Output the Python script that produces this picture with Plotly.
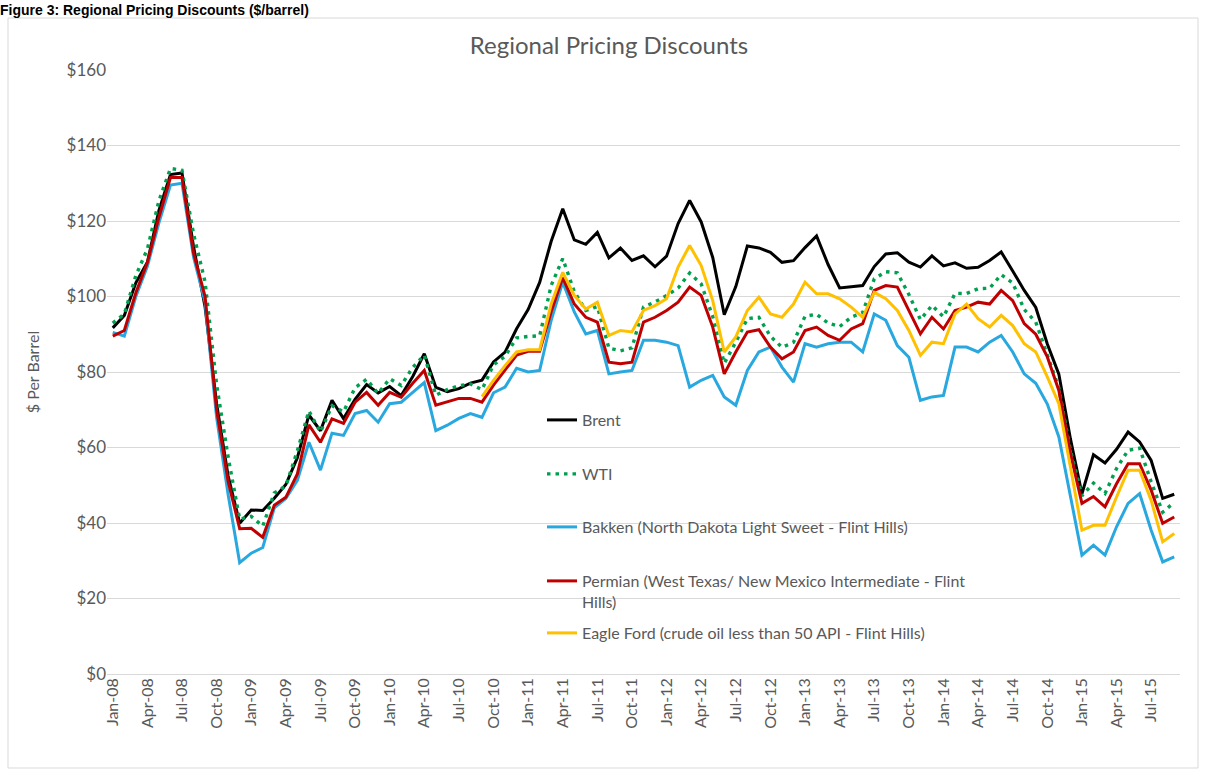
import pandas as pd
import plotly.graph_objects as go

# ---------------- data ----------------
months = pd.date_range("2008-01-01", periods=93, freq="MS").strftime("%b-%y").tolist()
tick_labels = months[::3]

brent = [91.69, 94.99, 103.64, 109.07, 122.80, 132.32, 132.72, 113.24, 97.23, 71.58, 52.45, 39.95,
         43.44, 43.32, 46.54, 50.18, 57.30, 68.61, 64.44, 72.51, 67.65, 72.77, 76.66, 74.46,
         76.17, 73.75, 78.83, 84.82, 75.95, 74.76, 75.58, 77.04, 77.84, 82.67, 85.28, 91.45,
         96.52, 103.72, 114.64, 123.26, 114.99, 113.83, 116.97, 110.22, 112.83, 109.55, 110.77, 107.87,
         110.69, 119.33, 125.45, 119.75, 110.34, 95.16, 102.62, 113.36, 112.86, 111.71, 109.06, 109.49,
         112.96, 116.05, 108.47, 102.25, 102.56, 102.92, 107.93, 111.28, 111.60, 109.08, 107.79, 110.76,
         108.12, 108.90, 107.48, 107.76, 109.54, 111.80, 106.77, 101.61, 97.09, 87.43, 79.44, 62.34,
         47.76, 58.10, 55.89, 59.52, 64.08, 61.48, 56.56, 46.52, 47.62]

wti = [92.95, 95.35, 105.56, 112.57, 125.39, 133.93, 133.44, 116.61, 103.90, 76.65, 57.44, 41.02,
       41.74, 39.16, 47.98, 49.79, 59.16, 69.68, 64.09, 71.06, 69.46, 75.82, 78.08, 74.30,
       78.22, 76.42, 81.24, 84.48, 73.84, 75.35, 76.37, 76.82, 75.31, 81.90, 84.14, 89.04,
       89.42, 89.58, 102.94, 110.04, 101.33, 96.29, 97.34, 86.34, 85.61, 86.41, 97.21, 98.57,
       100.24, 102.25, 106.19, 103.33, 94.70, 82.30, 87.90, 94.13, 94.51, 89.49, 86.53, 87.86,
       94.76, 95.31, 92.94, 92.02, 94.51, 95.77, 104.67, 106.57, 106.29, 100.54, 93.86, 97.63,
       94.62, 100.82, 100.80, 102.07, 102.18, 105.79, 103.59, 96.54, 93.21, 84.40, 75.79, 59.29,
       47.22, 50.58, 47.82, 54.45, 59.27, 59.82, 50.90, 42.87, 45.48]

bakken = [90.5, 89.5, 100.0, 108.0, 119.5, 129.5, 130.0, 110.5, 98.5, 68.0, 47.5, 29.5,
          32.0, 33.5, 44.0, 46.5, 51.3, 61.4, 54.0, 63.8, 63.2, 69.0, 69.8, 66.7,
          71.6, 72.0, 74.6, 77.2, 64.5, 65.9, 67.7, 69.0, 68.0, 74.5, 76.0, 81.0,
          80.0, 80.4, 93.7, 103.8, 95.9, 90.1, 91.0, 79.5, 80.0, 80.4, 88.4, 88.4,
          87.9, 87.0, 76.0, 77.8, 79.1, 73.4, 71.2, 80.4, 85.3, 86.6, 81.3, 77.3,
          87.5, 86.6, 87.5, 87.9, 87.9, 85.3, 95.4, 93.7, 87.0, 83.9, 72.5, 73.4,
          73.8, 86.6, 86.6, 85.3, 87.9, 89.7, 85.3, 79.5, 77.0, 71.5, 62.8, 47.0,
          31.5, 34.1, 31.5, 39.0, 45.2, 47.8, 38.1, 29.7, 31.0]

permian = [89.5, 91.0, 101.0, 109.0, 121.0, 131.5, 131.5, 111.5, 100.0, 70.0, 51.0, 38.5,
           38.6, 36.2, 44.7, 46.8, 53.0, 66.0, 61.4, 67.6, 66.4, 72.0, 74.6, 71.2,
           74.6, 73.3, 77.0, 80.4, 71.2, 72.0, 73.0, 73.0, 72.0, 76.5, 80.5, 84.5,
           85.5, 85.5, 96.0, 105.0, 98.0, 94.5, 93.2, 82.6, 82.2, 82.6, 93.2, 94.5,
           96.3, 98.5, 102.5, 100.3, 91.9, 79.5, 85.3, 90.6, 91.2, 86.6, 83.5, 85.3,
           91.0, 91.9, 89.7, 88.4, 91.4, 92.8, 101.6, 102.9, 102.5, 96.3, 90.1, 94.5,
           91.4, 96.3, 97.2, 98.5, 98.0, 101.6, 98.9, 92.8, 90.0, 84.0, 75.1, 58.5,
           45.2, 47.0, 44.3, 50.4, 55.7, 55.7, 48.7, 39.9, 41.6]

eagle_ford = [None] * 32 + [
    73.5, 77.8, 81.7, 85.3,
    85.9, 85.9, 98.0, 106.4, 100.3, 96.7, 98.5, 89.7, 91.0, 90.6, 96.3, 97.6,
    99.4, 107.8, 113.5, 108.2, 98.9, 85.3, 89.3, 96.3, 99.8, 95.4, 94.5, 98.0,
    103.8, 100.7, 100.7, 99.4, 97.2, 94.5, 101.1, 99.4, 96.3, 91.0, 84.4, 87.9,
    87.5, 95.4, 98.0, 94.1, 91.9, 95.0, 92.3, 87.5, 85.3, 78.7, 71.6, 55.0,
    38.1, 39.4, 39.4, 46.9, 54.0, 54.0, 46.0, 35.0, 37.2]

series_names = ["Brent", "WTI", "Bakken (North Dakota Light Sweet - Flint Hills)",
                "Permian (West Texas/ New Mexico Intermediate - Flint<br>Hills)",
                "Eagle Ford (crude oil less than 50 API - Flint Hills)"]
series_values = [brent, wti, bakken, permian, eagle_ford]
series_colors = ["#000000", "#00a050", "#29a8df", "#c00000", "#ffc000"]
series_dash = ["solid", "3.5px,5px", "solid", "solid", "solid"]

# ---------------- layout helpers ----------------
W, H = 1206, 772
L, R, T, B = 107, 26, 70, 98
PW, PH = W - L - R, H - T - B


def px_x(x):
    return (x - L) / PW


def px_y(y):
    return (H - B - y) / PH


GREY = "#595959"
FONT = "Lato"

fig = go.Figure()
legend_ids = ["legend", "legend2", "legend3", "legend4", "legend5"]
for name, vals, col, dash, lg in zip(series_names, series_values, series_colors, series_dash, legend_ids):
    fig.add_trace(go.Scatter(
        x=months, y=vals, name=name, mode="lines",
        line=dict(color=col, width=3.4 if dash != "solid" else 3, dash=dash),
        legend=lg, connectgaps=False,
    ))

legend_centers = [420, 474, 527, 591.5, 633]
legend_layouts = {}
for lg, yc in zip(legend_ids, legend_centers):
    legend_layouts[lg] = dict(
        x=px_x(542), y=px_y(yc), xanchor="left", yanchor="middle",
        bgcolor="rgba(0,0,0,0)", borderwidth=0,
        font=dict(family=FONT, size=16, color=GREY), valign="top",
    )

fig.update_layout(
    width=W, height=H,
    margin=dict(l=L, r=R, t=T, b=B, autoexpand=False),
    paper_bgcolor="white", plot_bgcolor="white",
    font=dict(family=FONT, color=GREY),
    title=dict(text="Regional Pricing Discounts", x=609 / W, xref="container", xanchor="center",
               y=1 - 46 / H, yref="container", yanchor="middle",
               font=dict(family=FONT, size=24, color=GREY)),
    xaxis=dict(type="category", range=[-0.5, 92.5], tickmode="array",
               tickvals=tick_labels, ticktext=tick_labels, tickangle=-90,
               tickfont=dict(family=FONT, size=16, color=GREY), automargin=False,
               showgrid=False, zeroline=False, showline=False, ticks=""),
    yaxis=dict(range=[0, 160], dtick=20, tickprefix="$", tickformat="d",
               gridcolor="#d9d9d9", gridwidth=1, zeroline=True, zerolinecolor="#d9d9d9",
               zerolinewidth=1, showline=False, ticks="", automargin=False,
               tickfont=dict(family=FONT, size=17, color=GREY),
               title=dict(text="$ Per Barrel", font=dict(family=FONT, size=16, color=GREY), standoff=22)),
    showlegend=True,
    **legend_layouts,
)

# outer chart border
fig.add_shape(type="rect", xref="paper", yref="paper",
              x0=px_x(8), x1=px_x(1198), y0=px_y(768), y1=px_y(18),
              line=dict(color="#d9d9d9", width=1), fillcolor="rgba(0,0,0,0)", layer="below")

# figure caption above the chart frame
fig.add_annotation(text="<b>Figure 3: Regional Pricing Discounts ($/barrel)</b>",
                   xref="paper", yref="paper", x=px_x(-1), y=px_y(1), xanchor="left", yanchor="top",
                   showarrow=False, borderpad=0,
                   font=dict(family="Liberation Sans", size=14, color="#000000"))

fig.write_html("out.html", config={"displayModeBar": False},
               post_script="document.body.style.margin='0';document.body.style.padding='0';")
